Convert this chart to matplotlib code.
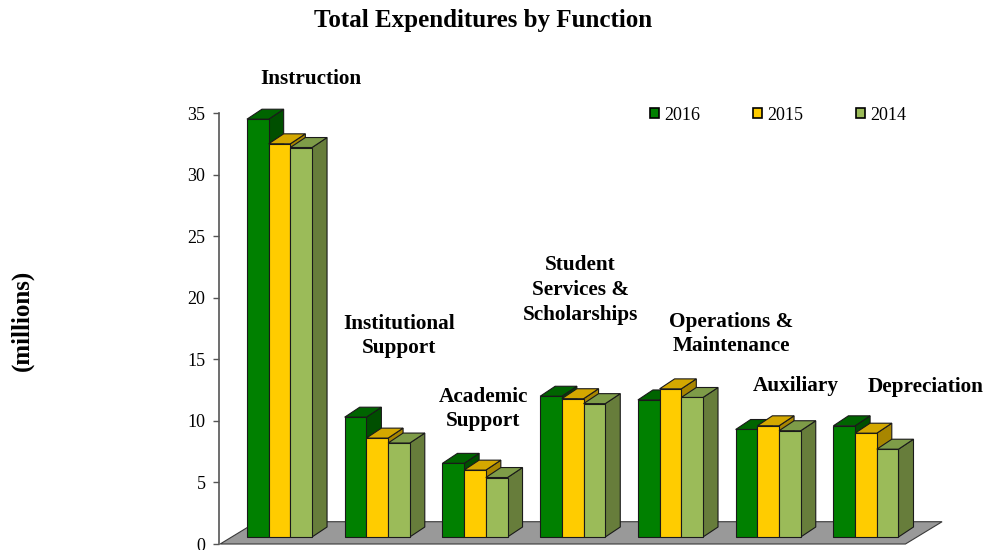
import numpy as np
import matplotlib
matplotlib.use("Agg")
import matplotlib.pyplot as plt
from matplotlib.patches import Polygon, Rectangle, Patch

plt.rcParams['font.family'] = ['Liberation Serif', 'DejaVu Serif']

# data (millions)
categories = ['Instruction', 'Institutional\nSupport', 'Academic\nSupport',
              'Student\nServices &\nScholarships', 'Operations &\nMaintenance',
              'Auxiliary', 'Depreciation']
years = ['2016', '2015', '2014']
exp_2016 = [34.5, 10.3, 6.55, 12.0, 11.7, 9.3, 9.6]
exp_2015 = [32.5, 8.6, 6.0, 11.8, 12.6, 9.6, 9.0]
exp_2014 = [32.2, 8.2, 5.4, 11.4, 11.9, 9.2, 7.7]
series = [exp_2016, exp_2015, exp_2014]

# label placement (offset from category, y in data units)
label_dx = [0.32, 0.22, 0.087, 0.08, 0.62, 0.285, 0.607]
label_y = [37.75, 16.89, 10.96, 20.63, 17.05, 12.83, 12.75]

# colours: front, top, side
colors = [('#008000', '#006400', '#004f00'),
          ('#FFCC00', '#D4A800', '#A88600'),
          ('#9BBB59', '#7E9C48', '#677D3B')]

fig = plt.figure(figsize=(9.86, 5.5), dpi=100)
ax = fig.add_axes([0.2224, 0.0109, 0.7515, 0.7836])
ax.set_xlim(-0.616, 6.965)
ax.set_ylim(0, 35)

bw = 0.222          # bar width
dx, dy = 0.1535, 0.81   # depth offset
yb = 0.57           # front bottom of bars (sits on the floor)

# floor
fdx, fdy = 0.375, 1.81
x_left = -0.607
x_right = len(categories) - 1 + 0.404
floor = Polygon([(x_left, 0), (x_right, 0), (x_right + fdx, fdy), (x_left + fdx, fdy)],
                closed=True, facecolor='#999999', edgecolor='#3a3a3a', lw=0.8,
                clip_on=False, zorder=1)
ax.add_patch(floor)

z = 2
for i in range(len(categories)):
    for j, vals in enumerate(series):
        h = vals[i]
        x0 = i - 1.5 * bw + j * bw
        fc, tc, sc = colors[j]
        side = Polygon([(x0 + bw, yb), (x0 + bw + dx, yb + dy), (x0 + bw + dx, h + dy), (x0 + bw, h)],
                       closed=True, facecolor=sc, edgecolor='#1a1a1a', lw=0.8, clip_on=False, zorder=z)
        top = Polygon([(x0, h), (x0 + bw, h), (x0 + bw + dx, h + dy), (x0 + dx, h + dy)],
                      closed=True, facecolor=tc, edgecolor='#1a1a1a', lw=0.8, clip_on=False, zorder=z)
        front = Rectangle((x0, yb), bw, h - yb, facecolor=fc, edgecolor='#1a1a1a',
                          lw=0.8, clip_on=False, zorder=z + 1)
        ax.add_patch(side)
        ax.add_patch(top)
        ax.add_patch(front)
        z += 2
    ax.text(i + label_dx[i], label_y[i], categories[i], ha='center', va='center',
            fontsize=15.3, fontweight='bold', linespacing=1.32, clip_on=False)

for s in ['top', 'right', 'bottom']:
    ax.spines[s].set_visible(False)
ax.spines['left'].set_color('#555555')
ax.spines['left'].set_linewidth(1.2)
ax.set_xticks([])
ax.set_yticks(np.arange(0, 36, 5))
ax.tick_params(axis='y', direction='out', length=4.5, width=1, color='#555555',
               labelsize=13, pad=5.5)

handles = [Patch(facecolor=c[0], edgecolor='black', lw=1.2) for c in colors]
ax.legend(handles, years, loc='center', bbox_to_anchor=(778 / 986, 1 - 115 / 550),
          bbox_transform=fig.transFigure, ncol=3, frameon=False, fontsize=13,
          handlelength=0.5, handleheight=0.5, handletextpad=0.3, columnspacing=2.9)

fig.text(483 / 986, 1 - 21 / 550, 'Total Expenditures by Function', ha='center', va='center',
         fontsize=18, fontweight='bold')
fig.text(22 / 986, 1 - 320 / 550, '(millions)', ha='center', va='center', rotation=90,
         fontsize=18, fontweight='bold')

fig.savefig('out.png', dpi=100)
